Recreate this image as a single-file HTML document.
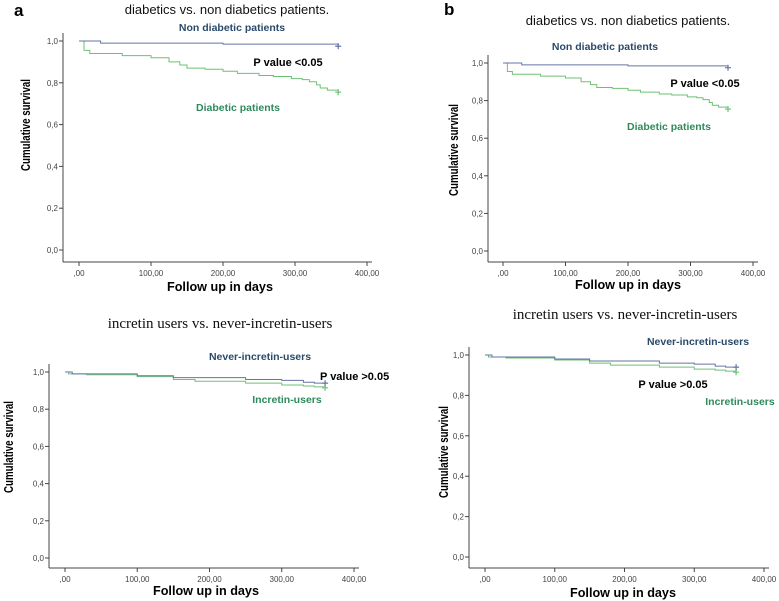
<!DOCTYPE html>
<html><head><meta charset="utf-8"><style>
body{margin:0;background:#fff;width:779px;height:601px;overflow:hidden}
svg{display:block}
</style></head><body>
<svg id="fig" width="779" height="601" viewBox="0 0 779 601" xmlns="http://www.w3.org/2000/svg"></svg>
<script>
const yTicks=[0,0.2,0.4,0.6,0.8,1.0];
const yTickLabels=["0,0","0,2","0,4","0,6","0,8","1,0"];
const xTicks=[0,100,200,300,400];
const xTickLabels=[",00","100,00","200,00","300,00","400,00"];
const diabTimes=[0,7,15,60,100,125,140,150,175,200,220,250,270,295,310,320,330,335,345,360];
const diabSurv=[1.0,0.955,0.94,0.93,0.92,0.90,0.885,0.87,0.865,0.855,0.845,0.835,0.83,0.82,0.815,0.805,0.79,0.775,0.765,0.755];
const nonDiabTimes=[0,30,200,360];
const nonDiabSurv=[1.0,0.99,0.985,0.975];
const incTimes=[0,5,30,100,150,180,250,300,330,345,360];
const incSurv=[1.0,0.99,0.985,0.975,0.96,0.95,0.94,0.93,0.925,0.92,0.915];
const neverTimes=[0,10,100,150,250,300,330,345,360];
const neverSurv=[1.0,0.99,0.98,0.97,0.96,0.955,0.945,0.94,0.94];

const NS="http://www.w3.org/2000/svg";
const svg=document.getElementById('fig');
function el(tag,attrs,parent,text){const e=document.createElementNS(NS,tag);for(const k in attrs)e.setAttribute(k,attrs[k]);if(text!==undefined)e.textContent=text;(parent||svg).appendChild(e);return e;}

const panels=[
 {id:'a',ax:63,y1:41,y0:250,xb:262,x0:79,x400:367,serif:false,title:"diabetics vs. non diabetics patients.",tx:227,ty:14,
  letter:'a',lx:14,ly:16,sa:[nonDiabTimes,nonDiabSurv],sb:[diabTimes,diabSurv],
  la:["Non diabetic patients",232,31],lb:["Diabetic patients",238,111],p:["P value <0.05",288,66,'middle'],xt:[220,291],yt:[25,125]},
 {id:'b',ax:488,y1:63,y0:251,xb:262,x0:503,x400:753,serif:false,title:"diabetics vs. non diabetics patients.",tx:628,ty:25,
  letter:'b',lx:444,ly:15,sa:[nonDiabTimes,nonDiabSurv],sb:[diabTimes,diabSurv],
  la:["Non diabetic patients",605,50],lb:["Diabetic patients",669,130],p:["P value <0.05",705,87,'middle'],xt:[628,289],yt:[453,150]},
 {id:'c',ax:49,y1:372,y0:558,xb:568,x0:65,x400:354,serif:true,title:"incretin users vs. never-incretin-users",tx:220,ty:328,
  letter:'',sa:[neverTimes,neverSurv],sb:[incTimes,incSurv],
  la:["Never-incretin-users",260,360],lb:["Incretin-users",287,403],p:["P value >0.05",320,380,'start'],xt:[206,595],yt:[8,447]},
 {id:'d',ax:469,y1:355,y0:557,xb:568,x0:485,x400:764,serif:true,title:"incretin users vs. never-incretin-users",tx:625,ty:319,
  letter:'',sa:[neverTimes,neverSurv],sb:[incTimes,incSurv],
  la:["Never-incretin-users",698,345],lb:["Incretin-users",740,405],p:["P value >0.05",673,388,'middle'],xt:[623,597],yt:[443,452]}
];

panels.forEach(P=>{
 const g=el('g',{});
 
 
 const xs=v=>P.x0+(v/400)*(P.x400-P.x0);
 const ys=v=>P.y0-(v)*(P.y0-P.y1);
 if(P.letter){const t=el('text',{x:P.lx,y:P.ly,'font-family':'Liberation Sans, sans-serif','font-size':17,'font-weight':'bold',fill:'#000'},g,P.letter);
  }
 const tt=el('text',{x:P.tx,y:P.ty,'text-anchor':'middle','font-family':P.serif?'Liberation Serif, serif':'Liberation Sans, sans-serif','font-size':P.serif?15:13,fill:'#111'},g,P.title);
 
 const axY=el('line',{x1:P.ax,y1:P.y1-8,x2:P.ax,y2:P.xb,stroke:'#444','stroke-width':1},g);
 
 const axX=el('line',{x1:P.ax,y1:P.xb,x2:P.x400+5,y2:P.xb,stroke:'#444','stroke-width':1},g);
 
 yTicks.forEach((v,i)=>{
  el('line',{x1:P.ax-4,y1:ys(v),x2:P.ax,y2:ys(v),stroke:'#444'},g);
  const t=el('text',{x:P.ax-5,y:ys(v)+3,'text-anchor':'end','font-family':'Liberation Sans, sans-serif','font-size':8,fill:'#444'},g,yTickLabels[i]);
  
 });
 xTicks.forEach((v,i)=>{
  el('line',{x1:xs(v),y1:P.xb,x2:xs(v),y2:P.xb+4,stroke:'#444'},g);
  const t=el('text',{x:xs(v),y:P.xb+14,'text-anchor':'middle','font-family':'Liberation Sans, sans-serif','font-size':8,fill:'#444'},g,xTickLabels[i]);
  
 });
 const xt=el('text',{x:P.xt[0],y:P.xt[1],'text-anchor':'middle','font-family':'Liberation Sans, sans-serif','font-size':12.5,'font-weight':'bold',fill:'#000',textLength:106,lengthAdjust:'spacingAndGlyphs'},g,'Follow up in days');
 
 const yt=el('text',{x:0,y:0,transform:`translate(${P.yt[0]+5},${P.yt[1]}) rotate(-90)`,'text-anchor':'middle','font-family':'Liberation Sans, sans-serif','font-size':13,'font-weight':'bold',fill:'#000',textLength:92,lengthAdjust:'spacingAndGlyphs'},g,'Cumulative survival');
 
 function step(T,S,color,name){
  let d=`M${xs(T[0])},${ys(S[0])}`;
  for(let i=1;i<T.length;i++){d+=` H${xs(T[i])} V${ys(S[i])}`;}
  const p=el('path',{d:d,fill:'none',stroke:color,'stroke-width':1},g);
  
  const lx=xs(T[T.length-1]),ly=ys(S[S.length-1]);
  const m=el('path',{d:`M${lx-3},${ly} H${lx+3} M${lx},${ly-3} V${ly+3}`,stroke:color,'stroke-width':1.2},g);
  
 }
 step(P.sb[0],P.sb[1],'#6cc274','series-green-'+P.id);
 step(P.sa[0],P.sa[1],'#6674a4','series-blue-'+P.id);
 const la=el('text',{x:P.la[1],y:P.la[2],'text-anchor':'middle','font-family':'Liberation Sans, sans-serif','font-size':10.5,'font-weight':'bold',fill:'#2a4a6a'},g,P.la[0]);
 
 const lb=el('text',{x:P.lb[1],y:P.lb[2],'text-anchor':'middle','font-family':'Liberation Sans, sans-serif','font-size':10.5,'font-weight':'bold',fill:'#2f8a5c'},g,P.lb[0]);
 
 const pv=el('text',{x:P.p[1],y:P.p[2],'text-anchor':P.p[3],'font-family':'Liberation Sans, sans-serif','font-size':11,'font-weight':'bold',fill:'#000'},g,P.p[0]);
 
});
</script>
</body></html>
